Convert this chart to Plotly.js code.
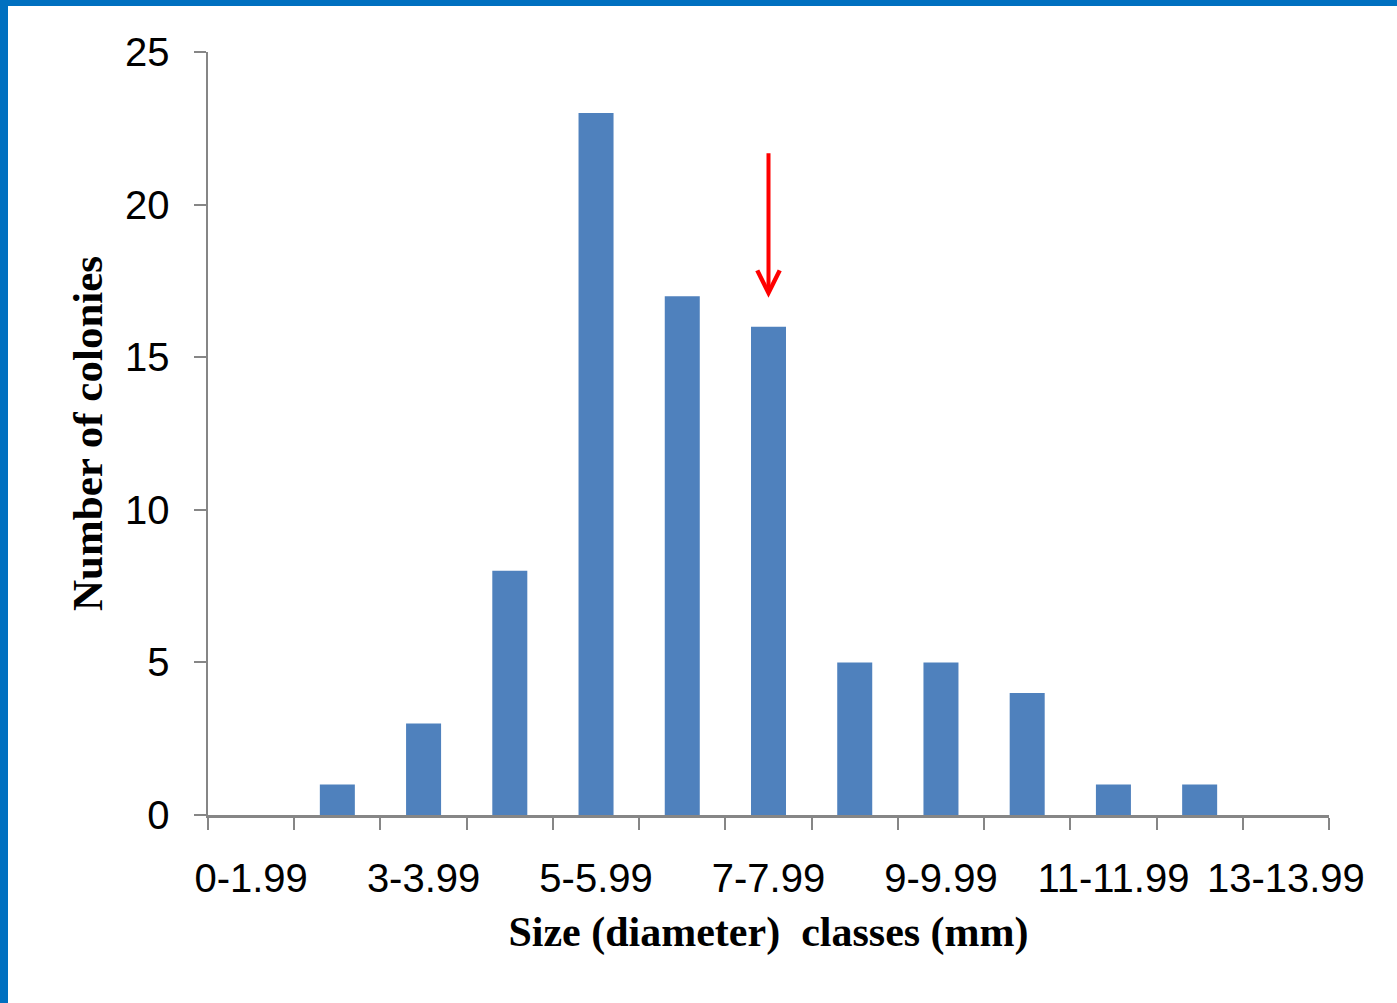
<!DOCTYPE html>
<html>
<head>
<meta charset="utf-8">
<script src="https://cdn.plot.ly/plotly-3.0.1.min.js"></script>
<style>
  html, body { margin: 0; padding: 0; background: #ffffff; }
  #frame { width: 1389px; height: 997px; border-top: 6px solid #0070C0; border-left: 8px solid #0070C0; overflow: hidden; }
  #chart { width: 1389px; height: 997px; }
</style>
</head>
<body>
<div id="frame"><div id="chart"></div></div>
<script>
// Size classes (diameter, mm)
const sizeClasses = ["0-1.99", "2-2.99", "3-3.99", "4-4.99", "5-5.99", "6-6.99", "7-7.99",
                     "8-8.99", "9-9.99", "10-10.99", "11-11.99", "12-12.99", "13-13.99"];
// Number of colonies per class
const colonyCounts = [0, 1, 3, 8, 23, 17, 16, 5, 5, 4, 1, 1, 0];
// Tick labels shown (every other class)
const tickLabels = ["0-1.99", "", "3-3.99", "", "5-5.99", "", "7-7.99",
                    "", "9-9.99", "", "11-11.99", "", "13-13.99"];
// Class marked by the arrow
const markedClass = "7-7.99";
const markedValue = 16;

const trace = {
  type: "bar",
  x: sizeClasses,
  y: colonyCounts,
  marker: { color: "#4F81BD", line: { width: 0 } },
  hoverinfo: "x+y"
};

const axisGray = "#868686";
const layout = {
  width: 1389,
  height: 997,
  margin: { l: 200, r: 68, t: 46, b: 188 },
  paper_bgcolor: "#ffffff",
  plot_bgcolor: "#ffffff",
  showlegend: false,
  bargap: 0.594,
  font: { family: "Liberation Sans, Arial, sans-serif", color: "#000000" },
  xaxis: {
    type: "category",
    range: [-0.5, sizeClasses.length - 0.5],
    tickmode: "array",
    tickvals: sizeClasses,
    ticktext: tickLabels,
    tickson: "boundaries",
    ticks: "outside",
    ticklen: 12,
    tickwidth: 2,
    tickcolor: axisGray,
    showline: true,
    linecolor: axisGray,
    linewidth: 2.5,
    showgrid: false,
    zeroline: false,
    tickangle: 0,
    ticklabelstandoff: 26,
    tickfont: { family: "Liberation Sans, Arial, sans-serif", size: 40, color: "#000000" },
    title: {
      text: "Size (diameter)  classes (mm)",
      standoff: 18,
      font: { family: "Liberation Serif, Times New Roman, serif", size: 42, color: "#000000", weight: "bold" }
    }
  },
  yaxis: {
    range: [0, 25],
    tickmode: "linear",
    tick0: 0,
    dtick: 5,
    ticks: "outside",
    ticklen: 12,
    tickwidth: 2,
    tickcolor: axisGray,
    showline: true,
    linecolor: axisGray,
    linewidth: 2.5,
    showgrid: false,
    zeroline: false,
    ticklabelstandoff: 16,
    tickfont: { family: "Liberation Sans, Arial, sans-serif", size: 40, color: "#000000" },
    title: {
      text: "Number of colonies",
      standoff: 9,
      font: { family: "Liberation Serif, Times New Roman, serif", size: 43, color: "#000000", weight: "bold" }
    }
  },
  annotations: [{
    x: markedClass,
    y: markedValue + 0.95,
    xref: "x",
    yref: "y",
    text: "",
    showarrow: true,
    arrowhead: 5,
    arrowsize: 1.1,
    arrowwidth: 4,
    arrowcolor: "#FF0000",
    ax: 0,
    ay: -146,
    standoff: 0
  }]
};

Plotly.newPlot("chart", [trace], layout, { displayModeBar: false, staticPlot: true });
</script>
</body>
</html>
